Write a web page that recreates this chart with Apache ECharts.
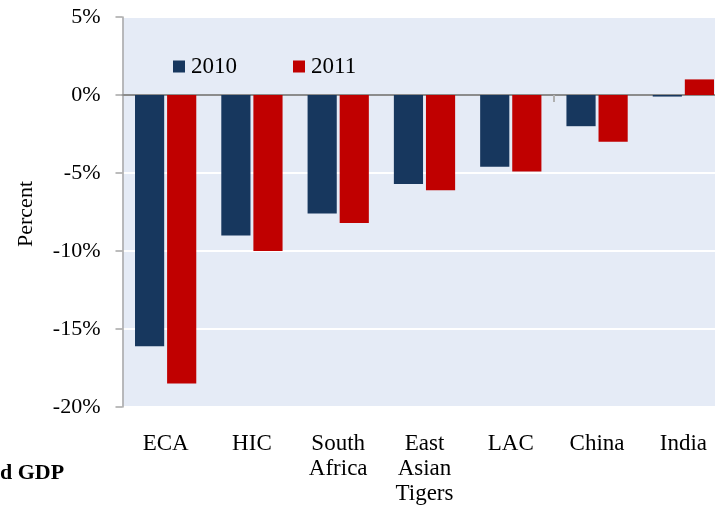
<!DOCTYPE html>
<html>
<head>
<meta charset="utf-8">
<script src="https://cdn.jsdelivr.net/npm/echarts@6/dist/echarts.min.js"></script>
<style>
    html,body{margin:0;padding:0;background:#fff;}
    #chart{width:715px;height:506px;}
</style>
</head>
<body>
<div id="chart"></div>
<script>
let categories=['ECA','HIC','South\nAfrica','East\nAsian\nTigers','LAC','China','India'];
let legend=['2010','2011'];
let data2010=[-16.1,-9.0,-7.6,-5.7,-4.6,-2.0,-0.1];
let data2011=[-18.5,-10.0,-8.2,-6.1,-4.9,-3.0,1.0];
let yTicks={min:-20,max:5,interval:5};
let color=['#17375E','#C00000'];

let font='"Liberation Serif", "Times New Roman", serif';
let myChart=echarts.init(document.getElementById('chart'));
let option={
    animation:false,
    color:color,
    textStyle:{fontFamily:font},
    legend:{
        data:legend,
        left:168,
        top:50,
        icon:'rect',
        itemWidth:12,
        itemHeight:12,
        itemGap:56,
        selectedMode:false,
        textStyle:{fontFamily:font,fontSize:23,color:'#000',padding:[0,0,0,1]}
    },
    grid:{
        left:122.5,
        width:604,
        top:17,
        bottom:99,
        outerBoundsMode:'none',
        containLabel:false,
        show:true,
        backgroundColor:'#E5EBF6',
        borderWidth:0
    },
    graphic:[
        {
            type:'text',
            left:15,
            top:181,
            rotation:Math.PI/2,
            style:{text:'Percent',font:'22px '+font,fill:'#000'}
        },
        {
            type:'text',
            left:0,
            top:462,
            style:{text:'d GDP',font:'bold 22px '+font,fill:'#000'}
        }
    ],
    xAxis:[
        {
            type:'category',
            data:categories,
            axisLine:{show:false,onZero:false},
            axisTick:{show:false},
            axisLabel:{
                interval:0,
                margin:24,
                fontSize:23,
                lineHeight:25,
                color:'#000',
                fontFamily:font
            }
        },
        {
            // zero line with the one tick mark between LAC and China
            type:'value',
            min:0,
            max:categories.length,
            position:'bottom',
            splitLine:{show:false},
            axisLine:{onZero:true,lineStyle:{color:'#8C8C8C',width:2}},
            axisTick:{
                show:true,
                length:7,
                customValues:[5],
                lineStyle:{color:'#B0B0B0',width:2}
            },
            axisLabel:{show:false}
        }
    ],
    yAxis:{
        type:'value',
        min:yTicks.min,
        max:yTicks.max,
        interval:yTicks.interval,
        axisLine:{show:true,lineStyle:{color:'#A6A6A6',width:1.5}},
        axisTick:{show:true,length:7,lineStyle:{color:'#A6A6A6',width:1.5}},
        splitLine:{show:true,lineStyle:{color:'#fff',width:2}},
        axisLabel:{
            margin:22,
            fontSize:22,
            color:'#000',
            fontFamily:font,
            formatter:function(v){return v+'%';}
        }
    },
    series:[
        {
            name:legend[0],
            type:'bar',
            xAxisIndex:0,
            barGap:'10%',
            barCategoryGap:'29%',
            data:data2010
        },
        {
            name:legend[1],
            type:'bar',
            xAxisIndex:0,
            data:data2011
        }
    ]
};
myChart.setOption(option);
</script>
</body>
</html>
